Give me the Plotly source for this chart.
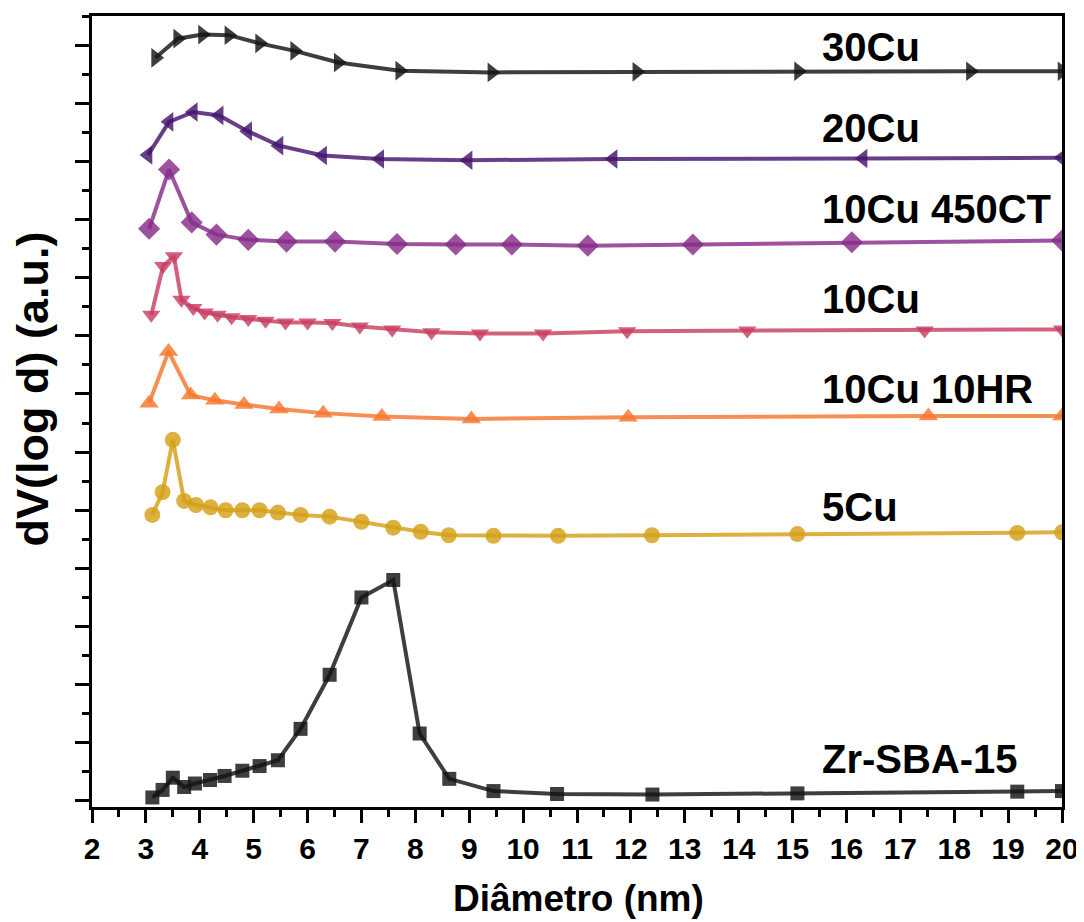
import plotly.graph_objects as go

# ---------------- data ----------------
zr_x = [3.12, 3.31, 3.50, 3.71, 3.91, 4.19, 4.46, 4.79, 5.11, 5.45, 5.87, 6.41, 7.00, 7.59, 8.08, 8.63, 9.45, 10.63, 12.40, 15.09, 19.17, 20.0]
zr_y = [0.06, 0.19, 0.40, 0.24, 0.30, 0.36, 0.43, 0.52, 0.60, 0.70, 1.24, 2.17, 3.50, 3.80, 1.16, 0.38, 0.17, 0.12, 0.11, 0.13, 0.16, 0.17]

cu5_x = [3.12, 3.31, 3.50, 3.71, 3.93, 4.20, 4.48, 4.79, 5.11, 5.45, 5.87, 6.41, 7.00, 7.59, 8.10, 8.62, 9.45, 10.65, 12.39, 15.09, 19.17, 20.0]
cu5_y = [4.92, 5.31, 6.21, 5.16, 5.09, 5.05, 5.00, 5.00, 5.00, 4.96, 4.92, 4.89, 4.80, 4.70, 4.63, 4.57, 4.56, 4.56, 4.57, 4.59, 4.61, 4.62]

hr_x = [3.06, 3.42, 3.83, 4.28, 4.82, 5.47, 6.29, 7.38, 9.04, 11.95, 17.52, 20.0]
hr_y = [6.84, 7.73, 6.98, 6.89, 6.82, 6.74, 6.67, 6.61, 6.57, 6.60, 6.62, 6.62]

cu10_x = [3.10, 3.32, 3.52, 3.66, 3.88, 4.09, 4.33, 4.59, 4.90, 5.22, 5.59, 6.00, 6.46, 6.97, 7.57, 8.30, 9.20, 10.37, 11.93, 14.16, 17.45, 20.0]
cu10_y = [8.36, 9.20, 9.37, 8.62, 8.48, 8.40, 8.36, 8.32, 8.29, 8.26, 8.23, 8.23, 8.22, 8.16, 8.11, 8.06, 8.04, 8.04, 8.08, 8.09, 8.09, 8.11]

ct_x = [3.06, 3.43, 3.85, 4.31, 4.90, 5.61, 6.51, 7.66, 8.75, 9.79, 11.20, 13.15, 16.10, 20.0]
ct_y = [9.84, 10.86, 9.95, 9.74, 9.65, 9.62, 9.62, 9.58, 9.57, 9.57, 9.55, 9.57, 9.61, 9.64]

cu20_x = [3.04, 3.43, 3.88, 4.36, 4.89, 5.47, 6.28, 7.34, 8.98, 11.67, 16.31, 20.0]
cu20_y = [11.11, 11.68, 11.85, 11.79, 11.52, 11.27, 11.10, 11.04, 11.02, 11.04, 11.05, 11.06]

cu30_x = [3.18, 3.59, 4.05, 4.54, 5.11, 5.76, 6.57, 7.71, 9.42, 12.11, 15.11, 18.30, 20.0]
cu30_y = [12.78, 13.11, 13.18, 13.17, 13.03, 12.90, 12.70, 12.56, 12.53, 12.54, 12.55, 12.55, 12.55]

series_names = ["Zr-SBA-15", "5Cu", "10Cu 10HR", "10Cu", "10Cu 450CT", "20Cu", "30Cu"]
label_y = [0.73, 5.05, 7.08, 8.63, 10.18, 11.57, 12.97]
label_x = 15.5

x_ticks = list(range(2, 21))

# ---------------- styling ----------------
colors = [(20, 20, 20), (212, 160, 23), (245, 118, 46), (200, 62, 98), (134, 44, 137), (70, 20, 110), (20, 20, 20)]
symbols = ["square", "circle", "triangle-up", "triangle-down", "diamond", "triangle-left", "triangle-right"]
msizes = [14, 16, 17, 16, 17, 17, 17]
data = [(zr_x, zr_y), (cu5_x, cu5_y), (hr_x, hr_y), (cu10_x, cu10_y), (ct_x, ct_y), (cu20_x, cu20_y), (cu30_x, cu30_y)]

FONT = "Arial, Liberation Sans, Helvetica, sans-serif"

fig = go.Figure()
for (xs, ys), name, c, s, ms in zip(data, series_names, colors, symbols, msizes):
    rgba = "rgba(%d,%d,%d,0.82)" % c
    fig.add_trace(go.Scatter(
        x=xs, y=ys, mode="lines+markers", name=name,
        line=dict(color=rgba, width=4),
        marker=dict(symbol=s, size=ms, color=rgba, line=dict(width=0)),
        cliponaxis=True, showlegend=False,
    ))

annotations = []
for name, yv in zip(series_names, label_y):
    annotations.append(dict(
        x=label_x, y=yv, xref="x", yref="y", text="<b>%s</b>" % name,
        showarrow=False, xanchor="left", yanchor="middle",
        font=dict(family=FONT, size=40, color="black"),
    ))
annotations.append(dict(
    x=0.502, y=-0.116, xref="paper", yref="paper", text="<b>Diâmetro (nm)</b>",
    showarrow=False, xanchor="center", yanchor="middle",
    font=dict(family=FONT, size=37, color="black"),
))
annotations.append(dict(
    x=-0.061, y=0.529, xref="paper", yref="paper", text="<b>dV(log d) (a.u.)</b>",
    showarrow=False, xanchor="center", yanchor="middle", textangle=-90,
    font=dict(family=FONT, size=45, color="black"),
))

# the page body adds an 8 px margin, so the figure is 8 px smaller than the window
fig.update_layout(
    width=1076, height=914,
    margin=dict(l=84, r=22, t=8, b=115, autoexpand=False),
    paper_bgcolor="white", plot_bgcolor="white",
    annotations=annotations,
    xaxis=dict(
        range=[2, 20], tickmode="array", tickvals=x_ticks, ticktext=[str(v) for v in x_ticks],
        ticks="outside", ticklen=13, tickwidth=2.5, tickcolor="black",
        showline=True, linecolor="black", linewidth=2.5, mirror=True,
        showgrid=False, zeroline=False, automargin=False,
        tickfont=dict(family=FONT, size=30, color="black", weight="bold"),
        minor=dict(ticks="outside", ticklen=7, tickwidth=2.5, tickcolor="black", dtick=0.5, tick0=0, showgrid=False),
    ),
    yaxis=dict(
        range=[-0.104, 13.5], tick0=0, dtick=1,
        ticks="outside", ticklen=14, tickwidth=2.5, tickcolor="black",
        showticklabels=False, automargin=False,
        showline=True, linecolor="black", linewidth=2.5, mirror=True,
        showgrid=False, zeroline=False,
        minor=dict(ticks="outside", ticklen=7, tickwidth=2.5, tickcolor="black", dtick=0.5, tick0=0, showgrid=False),
    ),
)

fig.write_html("out.html")
